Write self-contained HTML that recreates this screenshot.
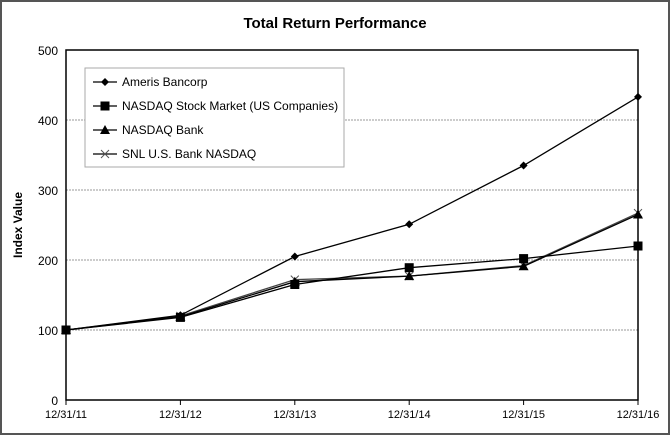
<!DOCTYPE html>
<html><head><meta charset="utf-8"><style>
body{margin:0;background:#fff}
svg{display:block;font-family:"Liberation Sans",Arial,sans-serif}
</style></head><body>
<svg width="670" height="435">
<rect x="1" y="1" width="668" height="433" fill="#fff" stroke="#555" stroke-width="2"/>
<text x="335" y="28" text-anchor="middle" font-size="15" font-weight="bold">Total Return Performance</text>
<text transform="translate(22,225) rotate(-90)" text-anchor="middle" font-size="12" font-weight="bold">Index Value</text>
<g id="grid"></g><g id="axes"></g><g id="series"></g>
<g>
<rect x="85" y="68" width="259" height="99" fill="#fff" stroke="#aaa"/>
<g id="legend"></g>
</g>
</svg>
<script>
const categories=["12/31/11","12/31/12","12/31/13","12/31/14","12/31/15","12/31/16"];
const yTicks=[0,100,200,300,400,500];
const ameris=[100,121,205,251,335,433];
const nasdaqStock=[100,118,165,189,202,220];
const nasdaqBank=[100,119,169,177,191,265];
const snlBank=[100,120,172,177,192,267];
const seriesNames=["Ameris Bancorp","NASDAQ Stock Market (US Companies)","NASDAQ Bank","SNL U.S. Bank NASDAQ"];
const NS="http://www.w3.org/2000/svg";
const X0=66,X1=638,Y0=400,Y1=50;
const xs=i=>X0+(X1-X0)*i/(categories.length-1);
const ys=v=>Y0-(Y0-Y1)*v/500;
function mk(t,a,p){const e=document.createElementNS(NS,t);for(const k in a)e.setAttribute(k,a[k]);p.appendChild(e);return e;}
const grid=document.getElementById('grid'),axes=document.getElementById('axes'),ser=document.getElementById('series'),leg=document.getElementById('legend');
yTicks.forEach(v=>{
 if(v>0&&v<500){const l=mk('line',{x1:X0,x2:X1,y1:ys(v),y2:ys(v),stroke:'#999','stroke-dasharray':'2,1'},grid);
 
 }
 const t=mk('text',{x:X0-8,y:ys(v)+5,'text-anchor':'end','font-size':'12'},axes);t.textContent=v;
 
 
});
const box=mk('rect',{x:X0,y:Y1,width:X1-X0,height:Y0-Y1,fill:'none',stroke:'#000','stroke-width':1.5},axes);


categories.forEach((c,i)=>{
 mk('line',{x1:xs(i),x2:xs(i),y1:Y0,y2:Y0+5,stroke:'#000'},axes);
 const t=mk('text',{x:xs(i),y:Y0+18,'text-anchor':'middle','font-size':'11'},axes);t.textContent=c;
 
 
});
function marker(type,x,y,g){
 if(type==0)mk('polygon',{points:`${x},${y-4} ${x+4},${y} ${x},${y+4} ${x-4},${y}`,fill:'#000'},g);
 else if(type==1)mk('rect',{x:x-4.5,y:y-4.5,width:9,height:9,fill:'#000'},g);
 else if(type==2)mk('polygon',{points:`${x},${y-5} ${x+5},${y+4} ${x-5},${y+4}`,fill:'#000'},g);
 else{mk('path',{d:`M${x-4},${y-4}L${x+4},${y+4}M${x-4},${y+4}L${x+4},${y-4}`,stroke:'#555','stroke-width':1},g);}
}
const all=[ameris,nasdaqStock,nasdaqBank,snlBank];
const names=['series-ameris','series-nasdaq-stock','series-nasdaq-bank','series-snl-bank'];
[3,2,1,0].forEach(s=>{
 const g=mk('g',{},ser);
 
 
 mk('polyline',{points:all[s].map((v,i)=>xs(i)+','+ys(v)).join(' '),fill:'none',stroke:s==3?'#444':'#000','stroke-width':1.3},g);
 all[s].forEach((v,i)=>marker(s,xs(i),ys(v),g));
});
seriesNames.forEach((n,s)=>{
 const y=82+s*24;
 const g=mk('g',{},leg);
 
 
 mk('line',{x1:93,x2:117,y1:y,y2:y,stroke:'#000','stroke-width':1.3},g);
 marker(s,105,y,g);
 const t=mk('text',{x:122,y:y+4,'font-size':'12'},g);t.textContent=n;
});
</script>
</body></html>
